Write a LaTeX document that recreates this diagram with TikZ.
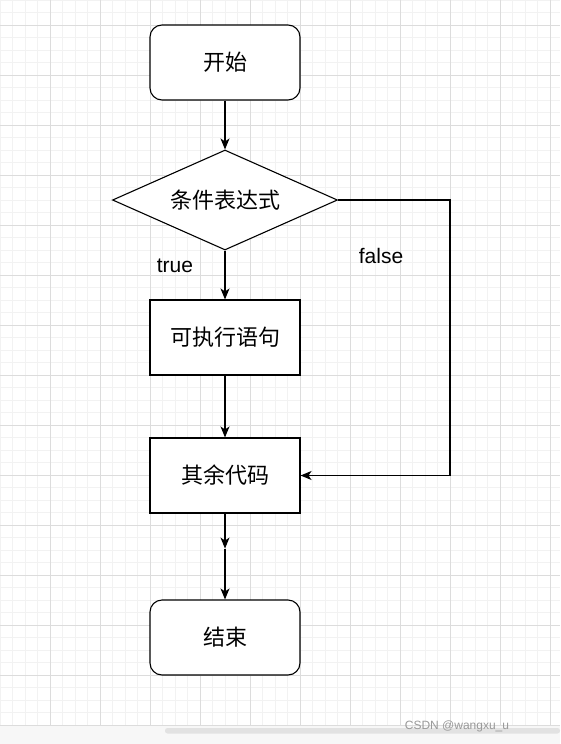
\documentclass[tikz,border=0pt]{standalone}
\usepackage{fontspec}
\setmainfont{Liberation Sans}
\newfontfamily\cjk{Noto Sans CJK SC}
\usetikzlibrary{arrows.meta,positioning,shapes.geometric}
\definecolor{gridminor}{HTML}{F2F2F2}
\definecolor{gridmajor}{HTML}{DCDCDC}
\definecolor{barfill}{HTML}{F7F7F7}
\definecolor{scrollfill}{HTML}{E2E2E2}

\begin{document}
\begin{tikzpicture}[x=1pt,y=-1pt,node distance=137.5pt,on grid,
            >={Stealth[length=11pt,width=9pt,inset=3pt]},
            terminal/.style={draw,line width=1.1pt,fill=white,rounded corners=12pt,
                minimum width=150pt,minimum height=75pt,font=\cjk\fontsize{22}{26}\selectfont},
            process/.style={draw,line width=1.1pt,fill=white,
                minimum width=150pt,minimum height=75pt,font=\cjk\fontsize{22}{26}\selectfont},
            decision/.style={draw,line width=1.1pt,fill=white,diamond,aspect=2.25,inner sep=0pt,
                minimum width=225pt,minimum height=100pt,font=\cjk\fontsize{22}{26}\selectfont},
            branch/.style={font=\fontsize{21}{25}\selectfont}]
            \useasboundingbox (0,0) rectangle (560,744);
            % grid
            \foreach \gx in {0,12.5,...,560} \draw[gridminor,line width=0.7pt] (\gx,0) -- (\gx,725);
            \foreach \gy in {0,12.5,...,725} \draw[gridminor,line width=0.7pt] (0,\gy) -- (560,\gy);
            \foreach \gx in {50,100,...,550} \draw[gridmajor,line width=0.8pt] (\gx,0) -- (\gx,725);
            \foreach \gy in {25,75,...,725} \draw[gridmajor,line width=0.8pt] (0,\gy) -- (560,\gy);
            % bottom bar
            \fill[barfill] (0,726) rectangle (560,744);
            \fill[scrollfill,rounded corners=2.5pt] (165,728) rectangle (560,733.5);
            \node[text=gray!80,font=\fontsize{12}{14}\selectfont] (mark) at (457,726) {CSDN @wangxu\_u};
            
            \node[terminal]    (start) at (225,62.5) {开始};
            \node[decision]    (cond) [below=of start] {条件表达式};
            \node[process]     (body) [below=of cond] {可执行语句};
            \node[process]     (rest) [below=138pt of body] {其余代码};
            \node[terminal]    (stop) [below=162pt of rest] {结束};
            \path (rest.south) ++(0,35) coordinate (mid);
            \coordinate        (turn) at (450,200);
            
            \node[branch]      (truelbl) at (175,266) {true};
            \node[branch]      (falselbl) at (381,256) {false};
            
            \path[->,line width=1.1pt]
            (start) edge [] (cond)
            (cond)  edge [] (body)
            (body)  edge [] (rest)
            (rest)  edge [] (mid)
            (mid)   edge [] (stop);
            \draw[->,line width=1.1pt] (cond.east) -- (turn) |- (rest.east);
\end{tikzpicture}
\end{document}
